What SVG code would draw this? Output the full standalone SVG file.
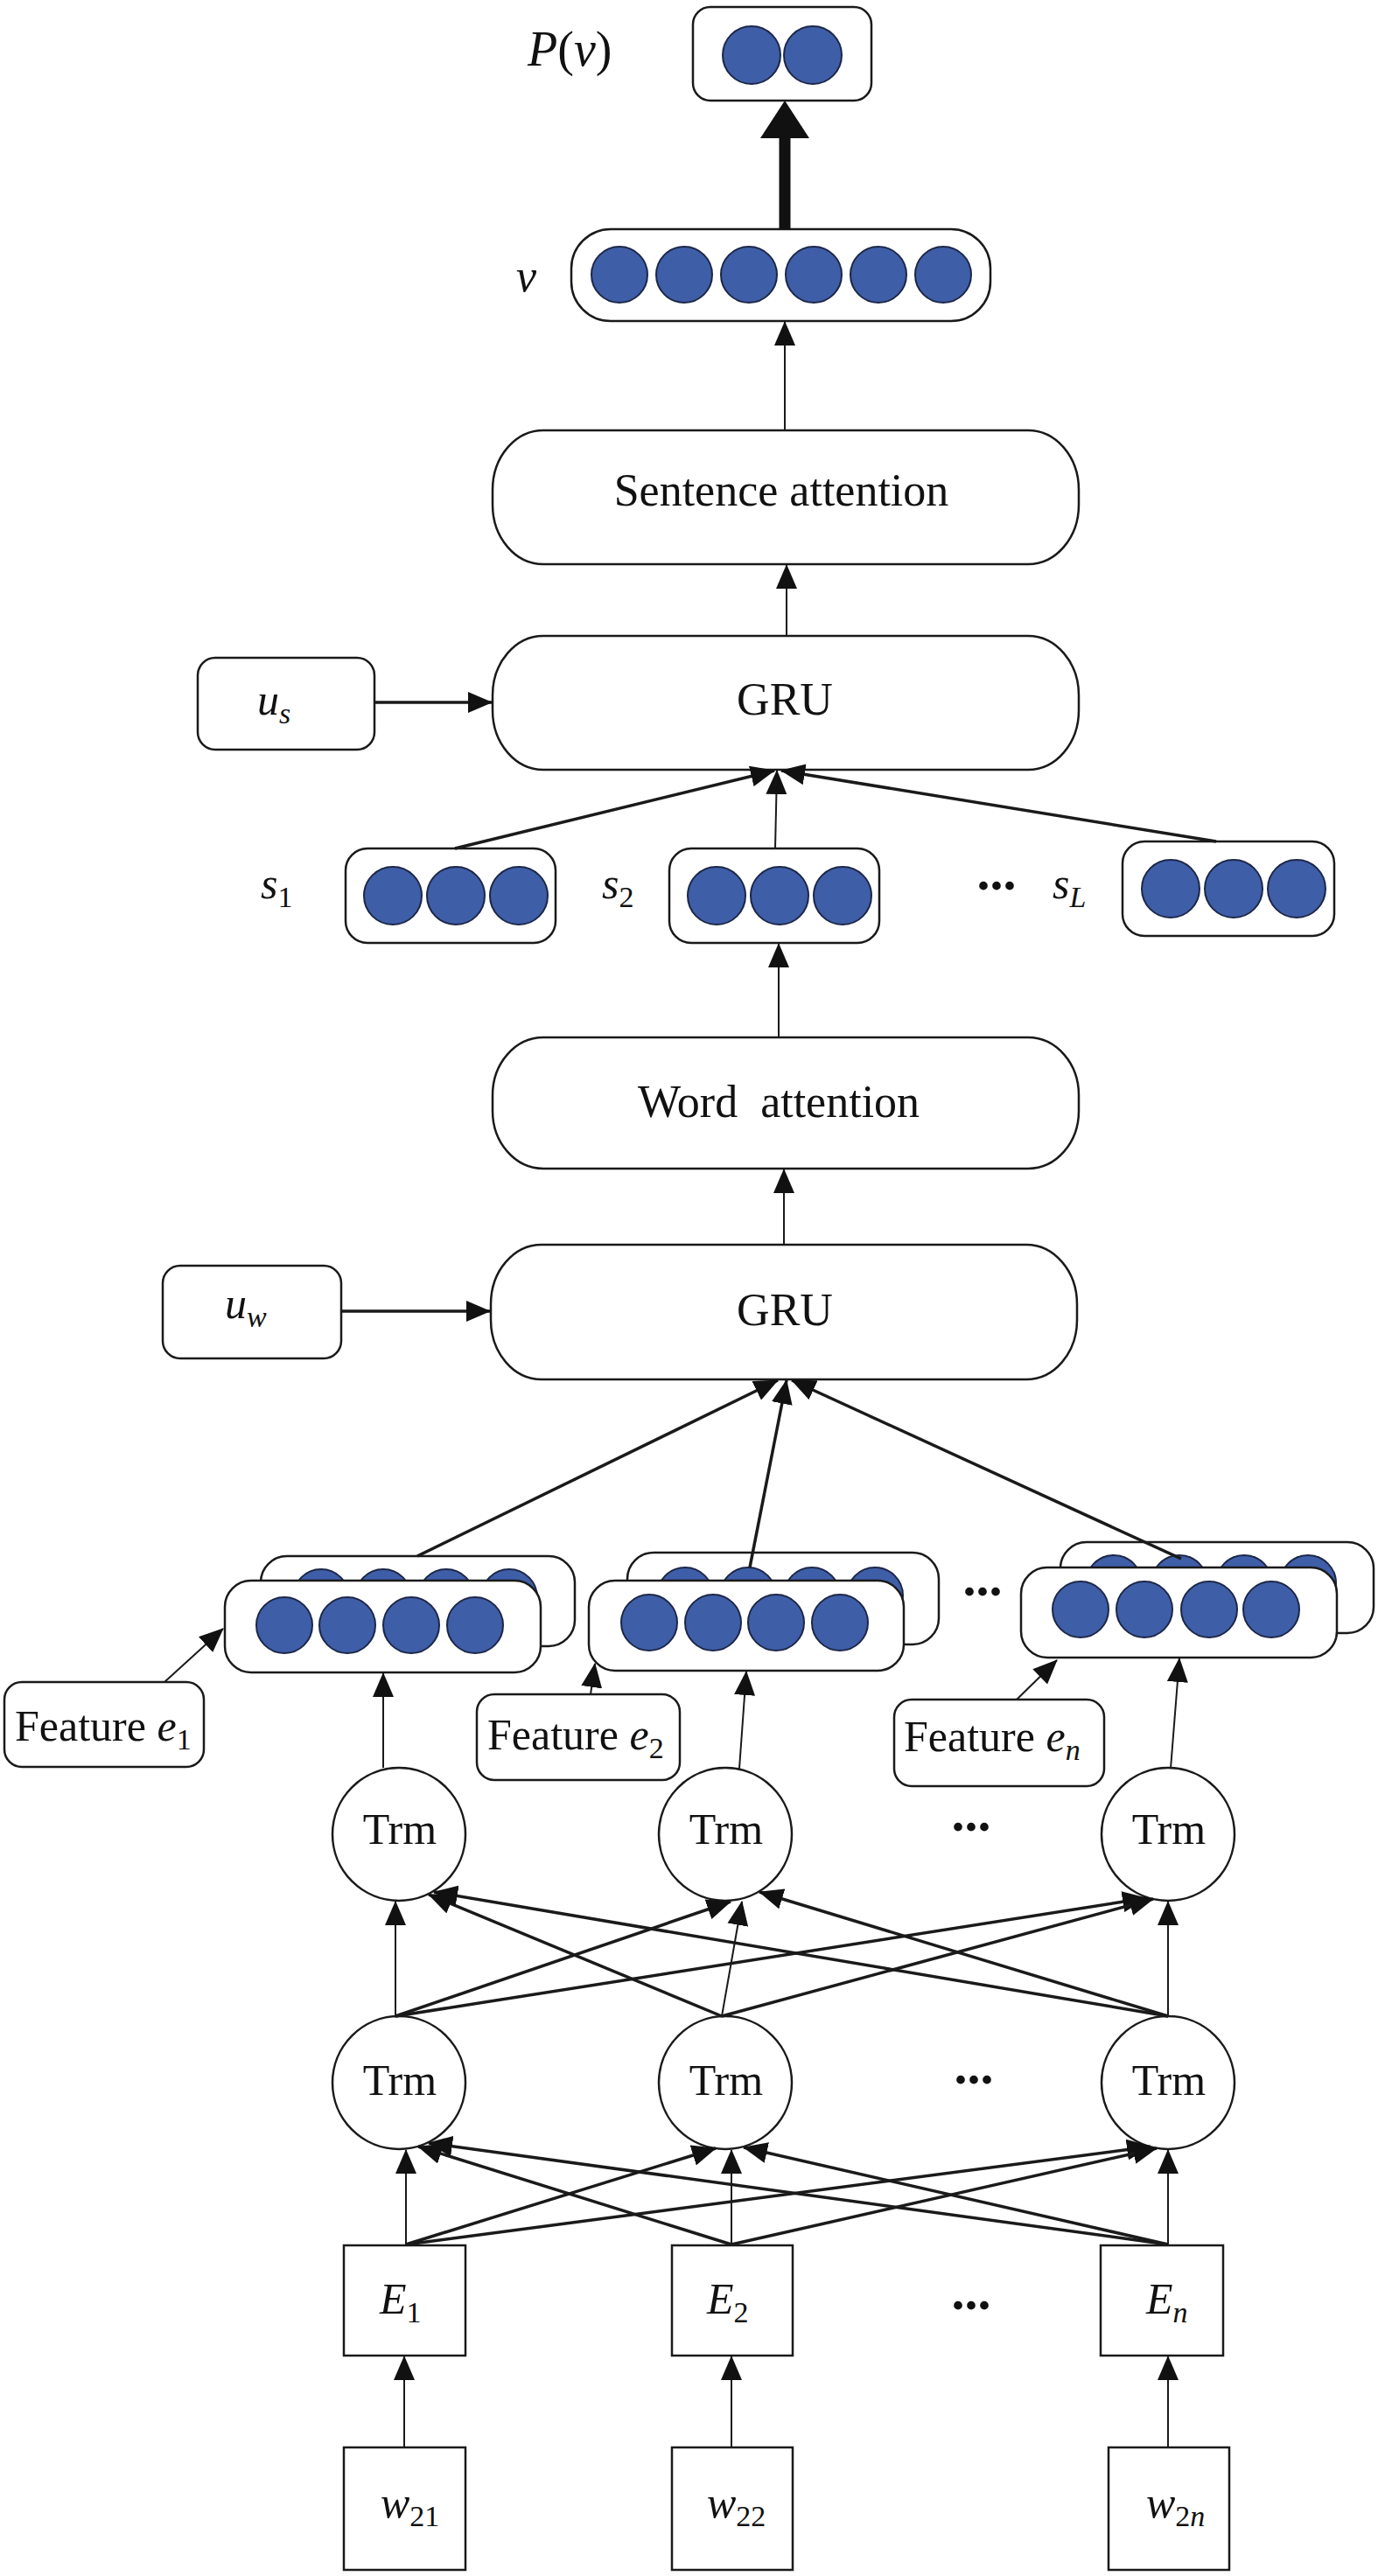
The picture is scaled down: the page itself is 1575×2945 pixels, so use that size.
<svg xmlns="http://www.w3.org/2000/svg" width="1575" height="2945" viewBox="0 0 1575 2945">
<defs>
<marker id="ah" markerUnits="userSpaceOnUse" markerWidth="28" markerHeight="24" refX="27" refY="12" orient="auto"><path d="M0,0 L28,12 L0,24 z" fill="#111"/></marker>
<style>
.box{fill:#fff;stroke:#1a1a1a;stroke-width:2.5}
.n{fill:#3f5ea8;stroke:#1c2747;stroke-width:2}
.t{font-family:"Liberation Serif","Times New Roman",serif;fill:#111;font-size:50px}
.i{font-style:italic}
.sub{font-size:34px}
.m{text-anchor:middle}
.dots{font-family:"Liberation Serif",serif;font-weight:bold;font-size:60px;fill:#111;text-anchor:middle}
.c{stroke:#1a1a1a;stroke-width:2;fill:none;marker-end:url(#ah)}
.ct{stroke-width:3.5}
</style>
</defs>
<rect width="1575" height="2945" fill="#fff"/>

<g id="node-pv">
<rect class="box" x="792" y="8" width="204" height="107" rx="20"/>
<circle class="n" cx="859" cy="63" r="33"/>
<circle class="n" cx="929" cy="63" r="33"/>
<text class="t" x="603" y="75" style="font-size:56px"><tspan class="i">P</tspan>(<tspan class="i">v</tspan>)</text>
</g>

<g id="node-v">
<rect class="box" x="653" y="262" width="479" height="105" rx="45"/>
<circle class="n" cx="708" cy="314" r="32"/>
<circle class="n" cx="782" cy="314" r="32"/>
<circle class="n" cx="856" cy="314" r="32"/>
<circle class="n" cx="930" cy="314" r="32"/>
<circle class="n" cx="1004" cy="314" r="32"/>
<circle class="n" cx="1078" cy="314" r="32"/>
<text class="t i" x="590" y="333" style="font-size:52px">v</text>
</g>

<g id="node-sentence-attention">
<rect class="box" x="563" y="492" width="670" height="153" rx="58" ry="68"/>
<text class="t m" x="893" y="578" style="font-size:52px">Sentence attention</text>
</g>

<g id="node-gru1">
<rect class="box" x="563" y="727" width="670" height="153" rx="58" ry="68"/>
<text class="t m" x="897" y="817" style="font-size:52px">GRU</text>
</g>

<g id="node-us">
<rect class="box" x="226" y="752" width="202" height="105" rx="20"/>
<text class="t" x="294" y="817"><tspan class="i">u</tspan><tspan class="sub i" dy="10">s</tspan></text>
</g>

<g id="node-s1">
<rect class="box" x="395" y="970" width="240" height="108" rx="25"/>
<circle class="n" cx="449" cy="1024" r="33"/>
<circle class="n" cx="521" cy="1024" r="33"/>
<circle class="n" cx="593" cy="1024" r="33"/>
<text class="t" x="298" y="1027"><tspan class="i">s</tspan><tspan class="sub" dy="10">1</tspan></text>
</g>
<g id="node-s2">
<rect class="box" x="765" y="970" width="240" height="108" rx="25"/>
<circle class="n" cx="819" cy="1024" r="33"/>
<circle class="n" cx="891" cy="1024" r="33"/>
<circle class="n" cx="963" cy="1024" r="33"/>
<text class="t" x="688" y="1027"><tspan class="i">s</tspan><tspan class="sub" dy="10">2</tspan></text>
</g>
<g id="node-sL">
<rect class="box" x="1283" y="962" width="242" height="108" rx="25"/>
<circle class="n" cx="1338" cy="1016" r="33"/>
<circle class="n" cx="1410" cy="1016" r="33"/>
<circle class="n" cx="1482" cy="1016" r="33"/>
<text class="t" x="1203" y="1027"><tspan class="i">s</tspan><tspan class="sub i" dy="10">L</tspan></text>
</g>
<text class="dots" x="1139" y="1017">...</text>

<g id="node-word-attention">
<rect class="box" x="563" y="1186" width="670" height="150" rx="58" ry="66"/>
<text class="t m" x="890" y="1277" style="font-size:52px" xml:space="preserve">Word  attention</text>
</g>

<g id="node-gru2">
<rect class="box" x="561" y="1423" width="670" height="154" rx="58" ry="68"/>
<text class="t m" x="897" y="1515" style="font-size:52px">GRU</text>
</g>

<g id="node-uw">
<rect class="box" x="186" y="1447" width="204" height="106" rx="20"/>
<text class="t" x="257" y="1507"><tspan class="i">u</tspan><tspan class="sub i" dy="10">w</tspan></text>
</g>

<g id="node-h1">
<rect class="box" x="298" y="1779" width="359" height="103" rx="30"/>
<circle class="n" cx="367" cy="1826" r="32"/>
<circle class="n" cx="438" cy="1826" r="32"/>
<circle class="n" cx="510" cy="1826" r="32"/>
<circle class="n" cx="582" cy="1826" r="32"/>
<rect class="box" x="257" y="1807" width="361" height="105" rx="30"/>
<circle class="n" cx="325" cy="1858" r="32"/>
<circle class="n" cx="397" cy="1858" r="32"/>
<circle class="n" cx="470" cy="1858" r="32"/>
<circle class="n" cx="543" cy="1858" r="32"/>
</g>
<g id="node-h2">
<rect class="box" x="717" y="1775" width="356" height="105" rx="30"/>
<circle class="n" cx="783" cy="1824" r="32"/>
<circle class="n" cx="855" cy="1824" r="32"/>
<circle class="n" cx="928" cy="1824" r="32"/>
<circle class="n" cx="1000" cy="1824" r="32"/>
<rect class="box" x="673" y="1807" width="360" height="103" rx="30"/>
<circle class="n" cx="742" cy="1855" r="32"/>
<circle class="n" cx="815" cy="1855" r="32"/>
<circle class="n" cx="887" cy="1855" r="32"/>
<circle class="n" cx="960" cy="1855" r="32"/>
</g>
<g id="node-hn">
<rect class="box" x="1212" y="1763" width="358" height="104" rx="30"/>
<circle class="n" cx="1273" cy="1810" r="32"/>
<circle class="n" cx="1348" cy="1810" r="32"/>
<circle class="n" cx="1422" cy="1810" r="32"/>
<circle class="n" cx="1495" cy="1810" r="32"/>
<rect class="box" x="1167" y="1792" width="361" height="103" rx="30"/>
<circle class="n" cx="1235" cy="1840" r="32"/>
<circle class="n" cx="1308" cy="1840" r="32"/>
<circle class="n" cx="1382" cy="1840" r="32"/>
<circle class="n" cx="1453" cy="1840" r="32"/>
</g>
<text class="dots" x="1123" y="1824">...</text>

<g id="node-fe1">
<rect class="box" x="5" y="1923" width="228" height="97" rx="20"/>
<text class="t" x="17" y="1990">Feature <tspan class="i">e</tspan><tspan class="sub" dy="10">1</tspan></text>
</g>
<g id="node-fe2">
<rect class="box" x="545" y="1937" width="232" height="98" rx="20"/>
<text class="t" x="557" y="2000">Feature <tspan class="i">e</tspan><tspan class="sub" dy="10">2</tspan></text>
</g>
<g id="node-fen">
<rect class="box" x="1022" y="1943" width="240" height="99" rx="20"/>
<text class="t" x="1033" y="2002">Feature <tspan class="i">e</tspan><tspan class="sub i" dy="10">n</tspan></text>
</g>

<g id="node-trm-u1"><circle class="box" cx="456" cy="2097" r="76"/><text class="t m" x="457" y="2108">Trm</text></g>
<g id="node-trm-u2"><circle class="box" cx="829" cy="2097" r="76"/><text class="t m" x="830" y="2108">Trm</text></g>
<g id="node-trm-u3"><circle class="box" cx="1335" cy="2097" r="76"/><text class="t m" x="1336" y="2108">Trm</text></g>
<text class="dots" x="1110" y="2093">...</text>

<g id="node-trm-l1"><circle class="box" cx="456" cy="2381" r="76"/><text class="t m" x="457" y="2395">Trm</text></g>
<g id="node-trm-l2"><circle class="box" cx="829" cy="2381" r="76"/><text class="t m" x="830" y="2395">Trm</text></g>
<g id="node-trm-l3"><circle class="box" cx="1335" cy="2381" r="76"/><text class="t m" x="1336" y="2395">Trm</text></g>
<text class="dots" x="1113" y="2382">...</text>

<g id="node-E1"><rect class="box" x="393" y="2567" width="139" height="126"/><text class="t" x="434" y="2645"><tspan class="i">E</tspan><tspan class="sub" dy="10">1</tspan></text></g>
<g id="node-E2"><rect class="box" x="768" y="2567" width="138" height="126"/><text class="t" x="808" y="2645"><tspan class="i">E</tspan><tspan class="sub" dy="10">2</tspan></text></g>
<g id="node-En"><rect class="box" x="1258" y="2567" width="140" height="126"/><text class="t" x="1310" y="2645"><tspan class="i">E</tspan><tspan class="sub i" dy="10">n</tspan></text></g>
<text class="dots" x="1110" y="2640">...</text>

<g id="node-w21"><rect class="box" x="393" y="2798" width="139" height="140"/><text class="t" x="435" y="2878"><tspan class="i">w</tspan><tspan class="sub" dy="10">21</tspan></text></g>
<g id="node-w22"><rect class="box" x="768" y="2798" width="138" height="140"/><text class="t" x="808" y="2878"><tspan class="i">w</tspan><tspan class="sub" dy="10">22</tspan></text></g>
<g id="node-w2n"><rect class="box" x="1267" y="2798" width="138" height="140"/><text class="t" x="1310" y="2878"><tspan class="i">w</tspan><tspan class="sub" dy="10">2<tspan class="i">n</tspan></tspan></text></g>

<g id="connectors">
<line x1="897" y1="262" x2="897" y2="152" stroke="#111" stroke-width="13"/>
<polygon points="869,158 925,158 897,115" fill="#111"/>
<line class="c" x1="897" y1="492" x2="897" y2="368"/>
<line class="c" x1="899" y1="727" x2="899" y2="646"/>
<line class="c ct" x1="428" y1="803" x2="562" y2="803"/>
<line class="c ct" x1="520" y1="970" x2="885" y2="881"/>
<line class="c" x1="886" y1="970" x2="888" y2="881"/>
<line class="c ct" x1="1390" y1="962" x2="893" y2="881"/>
<line class="c" x1="890" y1="1186" x2="890" y2="1079"/>
<line class="c" x1="896" y1="1423" x2="896" y2="1337"/>
<line class="c ct" x1="390" y1="1499" x2="560" y2="1499"/>
<line class="c ct" x1="477" y1="1779" x2="889" y2="1578"/>
<line class="c ct" x1="857" y1="1792" x2="899" y2="1578"/>
<line class="c ct" x1="1350" y1="1782" x2="905" y2="1578"/>
<line class="c" x1="188" y1="1923" x2="255" y2="1862"/>
<line class="c" x1="675" y1="1937" x2="680" y2="1902"/>
<line class="c" x1="1162" y1="1943" x2="1208" y2="1898"/>
<line class="c" x1="438" y1="2021" x2="438" y2="1913"/>
<line class="c" x1="845" y1="2022" x2="853" y2="1911"/>
<line class="c" x1="1338" y1="2022" x2="1348" y2="1896"/>
<line class="c" x1="452" y1="2305" x2="452" y2="2174"/>
<line class="c ct" x1="452" y1="2305" x2="835" y2="2174"/>
<line class="c ct" x1="452" y1="2305" x2="1310" y2="2170"/>
<line class="c ct" x1="825" y1="2305" x2="490" y2="2166"/>
<line class="c" x1="825" y1="2305" x2="848" y2="2174"/>
<line class="c ct" x1="825" y1="2305" x2="1318" y2="2171"/>
<line class="c ct" x1="1335" y1="2305" x2="496" y2="2163"/>
<line class="c ct" x1="1335" y1="2305" x2="868" y2="2163"/>
<line class="c" x1="1335" y1="2305" x2="1335" y2="2174"/>
<line class="c" x1="464" y1="2566" x2="464" y2="2458"/>
<line class="c ct" x1="464" y1="2566" x2="818" y2="2456"/>
<line class="c ct" x1="464" y1="2566" x2="1315" y2="2454"/>
<line class="c ct" x1="836" y1="2566" x2="478" y2="2454"/>
<line class="c" x1="836" y1="2566" x2="836" y2="2458"/>
<line class="c ct" x1="836" y1="2566" x2="1322" y2="2456"/>
<line class="c ct" x1="1335" y1="2566" x2="490" y2="2450"/>
<line class="c ct" x1="1335" y1="2566" x2="850" y2="2455"/>
<line class="c" x1="1335" y1="2566" x2="1335" y2="2458"/>
<line class="c" x1="462" y1="2798" x2="462" y2="2694"/>
<line class="c" x1="836" y1="2798" x2="836" y2="2694"/>
<line class="c" x1="1335" y1="2798" x2="1335" y2="2694"/>
</g>
</svg>
